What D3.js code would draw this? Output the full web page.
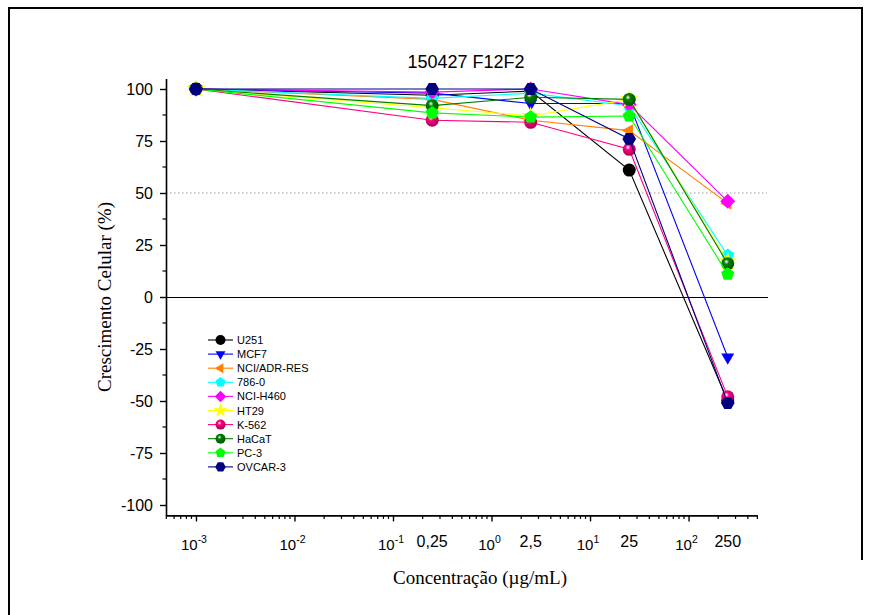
<!DOCTYPE html>
<html>
<head>
<meta charset="utf-8">
<script src="https://cdn.jsdelivr.net/npm/d3@7"></script>
<style>
    body { margin: 0; background: #fff; }
    svg text { font-family: "Liberation Sans", Arial, sans-serif; }
    .serif { font-family: "Liberation Serif", "Times New Roman", serif !important; }
</style>
</head>
<body>
<svg id="svg1" width="871" height="615"></svg>
<script>
// concentrations (ug/mL)
var concs = [0.001, 0.25, 2.5, 25, 250];
var names = ['U251', 'MCF7', 'NCI/ADR-RES', '786-0', 'NCI-H460', 'HT29', 'K-562', 'HaCaT', 'PC-3', 'OVCAR-3'];
var colors = ['#000000', '#0000ff', '#ff8000', '#00ffff', '#ff00ff', '#ffff00', '#ff0080', '#008000', '#00ff00', '#000080'];
var shapes = ['circle', 'triDown', 'triLeft', 'pentagon', 'diamond', 'star', 'sphere', 'sphere', 'pentagon', 'hexagon'];

var u251 = [100, 97, 99, 61, -50];
var mcf7 = [100, 98, 93, 93, -29];
var adr = [100, 95, 85, 80, 45];
var c786 = [100, 95.5, 98, 92, 20];
var h460 = [100, 98.5, 100, 92.5, 46];
var ht29 = [100, 91, 87, 95, 17];
var k562 = [100, 85, 84, 71, -48];
var hacat = [100, 92, 96, 95, 16];
var pc3 = [100, 88.5, 86.5, 87, 11];
var ovcar = [100, 100, 100, 76, -51];
var series = [u251, mcf7, adr, c786, h460, ht29, k562, hacat, pc3, ovcar];

var yTicks = [100, 75, 50, 25, 0, -25, -50, -75, -100];
var xDecades = [-3, -2, -1, 0, 1, 2];
var xExtraLabels = ['0,25', '2,5', '25', '250'];

var svg = d3.select("#svg1");

// outer frame
svg.append("path")
    .attr("d", "M9,615 L9,8 L862,8 L862,560")
    .attr("fill", "none")
    .attr("stroke", "#000")
    .attr("stroke-width", 2);

var x = d3.scaleLog().domain([5e-4, 500]).range([166.3, 757.4]);
var y = d3.scaleLinear().domain([-105, 105]).range([515.4, 78.6]);

// gradients for the shaded spheres
var defs = svg.append("defs");
[6, 7].forEach(function(i) {
    var g = defs.append("radialGradient")
        .attr("id", "sph" + i)
        .attr("cx", "40%").attr("cy", "35%").attr("r", "65%");
    g.append("stop").attr("offset", "0%").attr("stop-color", "#fff");
    g.append("stop").attr("offset", "30%").attr("stop-color", colors[i]);
    g.append("stop").attr("offset", "100%").attr("stop-color", d3.color(colors[i]).darker(1.2));
});

function polygon(n, r, rot) {
    var pts = [];
    for (var k = 0; k < n; k++) {
        var a = rot + k * 2 * Math.PI / n;
        pts.push([r * Math.cos(a), r * Math.sin(a)]);
    }
    return "M" + pts.map(function(p) { return p[0].toFixed(2) + "," + p[1].toFixed(2); }).join("L") + "Z";
}

function markerPath(shape, r) {
    if (shape == 'circle' || shape == 'sphere') return d3.symbol().type(d3.symbolCircle).size(Math.PI * r * r)();
    if (shape == 'triDown') return polygon(3, r * 1.15, Math.PI / 2);
    if (shape == 'triLeft') return polygon(3, r * 1.15, Math.PI);
    if (shape == 'pentagon') return polygon(5, r * 1.05, -Math.PI / 2);
    if (shape == 'diamond') return polygon(4, r * 1.15, 0);
    if (shape == 'hexagon') return polygon(6, r * 1.05, 0);
    if (shape == 'star') return d3.symbol().type(d3.symbolStar).size(r * r * 2.6)();
}

function drawMarker(g, i, cx, cy, r) {
    g.append("path")
        .attr("d", markerPath(shapes[i], r))
        .attr("transform", "translate(" + cx + "," + cy + ")")
        .attr("fill", shapes[i] == 'sphere' ? "url(#sph" + i + ")" : colors[i])
        .attr("stroke", "none");
}

// reference lines
svg.append("line")
    .attr("x1", 166).attr("x2", 767)
    .attr("y1", y(50)).attr("y2", y(50))
    .attr("stroke", "#999").attr("stroke-width", 1)
    .attr("stroke-dasharray", "1.5,2.5");
svg.append("line")
    .attr("x1", 166).attr("x2", 768)
    .attr("y1", Math.round(y(0)) + 0.5).attr("y2", Math.round(y(0)) + 0.5)
    .attr("stroke", "#000").attr("stroke-width", 1);

// axes
var yAxis = d3.axisLeft(y).tickValues(yTicks).tickSize(6).tickSizeOuter(0).tickPadding(7)
    .tickFormat(function(d) { return String(d); });
var yg = svg.append("g").attr("transform", "translate(166,0)").call(yAxis);
yg.select(".domain").attr("stroke-width", 1.6);
yg.selectAll(".tick line").attr("stroke-width", 1.4);
yg.selectAll("text").attr("font-size", 16).attr("fill", "#000");
// minor y ticks
yg.selectAll(".ymin").data(d3.range(-87.5, 100, 25)).enter().append("line")
    .attr("x1", 0).attr("x2", -3.5)
    .attr("y1", function(d) { return y(d); }).attr("y2", function(d) { return y(d); })
    .attr("stroke", "#000").attr("stroke-width", 1.2);

var xMinor = [];
xDecades.concat([-4]).forEach(function(e) {
    for (var m = 2; m <= 9; m++) {
        var v = m * Math.pow(10, e);
        if (v >= 5e-4 && v <= 500) xMinor.push(v);
    }
});
var xAxis = d3.axisBottom(x).tickValues(xDecades.map(function(e) { return Math.pow(10, e); }))
    .tickSize(6).tickSizeOuter(0).tickFormat("");
var xg = svg.append("g").attr("transform", "translate(0,515.4)").call(xAxis);
xg.select(".domain").attr("stroke-width", 1.6);
xg.selectAll(".tick line").attr("stroke-width", 1.4);
xg.selectAll(".xmin").data(xMinor).enter().append("line")
    .attr("x1", function(d) { return x(d); }).attr("x2", function(d) { return x(d); })
    .attr("y1", 0).attr("y2", 3.5)
    .attr("stroke", "#000").attr("stroke-width", 1.2);

// 10^n labels
xDecades.forEach(function(e) {
    var t = svg.append("text")
        .attr("x", x(Math.pow(10, e)) - 2)
        .attr("y", 550)
        .attr("font-size", 15)
        .attr("text-anchor", "middle");
    t.append("tspan").text("10");
    t.append("tspan").attr("font-size", 10.5).attr("dy", -7).text(e);
});
// concentration labels
concs.slice(1).forEach(function(c, i) {
    svg.append("text")
        .attr("x", x(c))
        .attr("y", 547)
        .attr("font-size", 16)
        .attr("text-anchor", "middle")
        .text(xExtraLabels[i]);
});

// axis titles
svg.append("text")
    .attr("class", "serif")
    .attr("x", 480).attr("y", 584)
    .attr("font-size", 19)
    .attr("text-anchor", "middle")
    .text("Concentração (µg/mL)");
svg.append("text")
    .attr("class", "serif")
    .attr("transform", "translate(111,297) rotate(-90)")
    .attr("font-size", 19)
    .attr("text-anchor", "middle")
    .text("Crescimento Celular (%)");

svg.append("text")
    .attr("x", 466).attr("y", 68)
    .attr("font-size", 18)
    .attr("text-anchor", "middle")
    .text("150427 F12F2");

// series lines + markers
var line = d3.line()
    .x(function(d, k) { return x(concs[k]); })
    .y(function(d) { return y(d); });

var plot = svg.append("g").attr("class", "series");
series.forEach(function(vals, i) {
    var g = plot.append("g");
    g.append("path")
        .attr("d", line(vals))
        .attr("fill", "none")
        .attr("stroke", colors[i])
        .attr("stroke-width", 1.1);
    vals.forEach(function(v, k) {
        drawMarker(g, i, x(concs[k]), y(v), 6.5);
    });
});

// legend
var leg = svg.append("g").attr("class", "legend");
names.forEach(function(n, i) {
    var ly = 340 + i * 14.1;
    leg.append("line")
        .attr("x1", 208).attr("x2", 233)
        .attr("y1", ly).attr("y2", ly)
        .attr("stroke", colors[i]).attr("stroke-width", 1.1);
    drawMarker(leg, i, 220.5, ly, 5);
    leg.append("text")
        .attr("x", 237).attr("y", ly + 4)
        .attr("font-size", 11)
        .text(n);
});
</script>
</body>
</html>
